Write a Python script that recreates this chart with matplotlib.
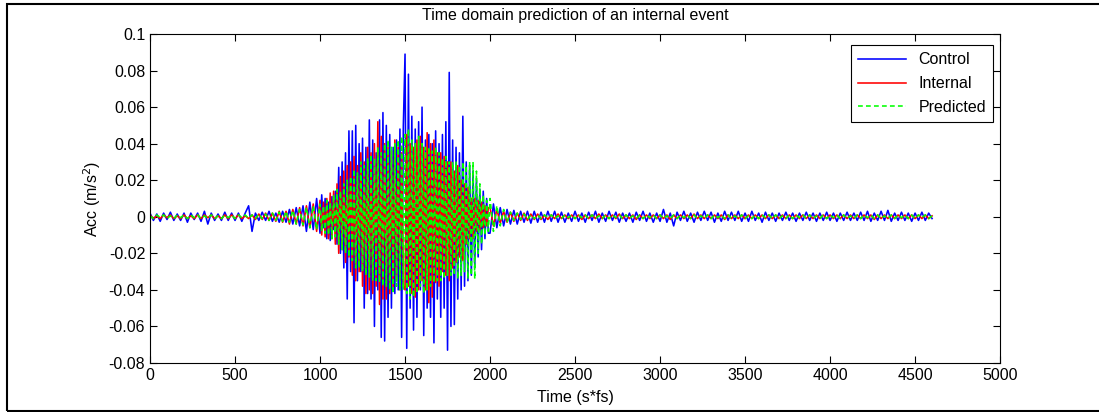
import numpy as N
import matplotlib
matplotlib.use('Agg')
import matplotlib.pyplot as plt
import matplotlib.patches as patches

plt.rcParams['font.family'] = ['Liberation Sans', 'DejaVu Sans']
plt.rcParams['axes.unicode_minus'] = False

# sample times: every 20 points in the quiet parts, every 10 in the event (1000-2000)
t = N.r_[0:1000:20, 1000:2000:10, 2000:4601:20]

# values in units of 1e-3 m/s^2
control = [2,-2,1.5,-2.5,2,-1.5,2.5,-2,1.5,-2,2,-3,2,-1.5,2,-2.5,3,-4,2,-2,1.5,-2,2.5,-2,2,
           -2,2,-2.5,2,6,-8,2,-2,2.5,-2,3,-2.5,2,-3,3,-3,4,-4,5,-5,6,-8,8,-7,10,
           -9,12,-6,10,-12,8,-13,11,-7,14,
           -15,27,-20,30,-28,35,-45,47,-30,47,
           -58,50,-35,40,-30,43,-50,38,-42,53,
           -45,42,-60,35,-40,53,-66,57,-68,50,
           -55,45,-50,38,-42,42,-40,48,-66,50,
           89,-72,78,-50,55,-62,48,-55,52,-40,
           60,-65,42,-50,45,-55,40,-69,47,-45,
           40,-55,45,-50,52,-73,79,-60,42,-59,
           38,-45,35,-40,55,-38,30,-35,28,-32,
           25,-28,20,-22,15,-18,14,-12,10,-9,
           -9,7,-6,5,-5,4,-4,3.5,-4,3,-3,3,-3.5,3,-3,2.5,-3,3,-2.5,3,-3,2.5,-3,2,-2.5,
           3,-2.5,2,-3,2.5,-2,3,-3,2,-2.5,3,-2,2.5,-3,2,-2.5,2,-3,2.5,-2,3,-2.5,2,-3,2,
           -2.5,4,-3,2,-5,2.5,-2,3,-2.5,2,-3,2.5,-2,3,-2,2.5,-3,2,-2.5,3,-2,2.5,-2,3,-2.5,
           2,-2.5,3,-2,2,-3,2.5,-2,2,-2.5,2,-2,2.5,-2,2,-2.5,2,-2,2.5,-2,2,-2.5,2,-2,2.5,
           -2,2,-2.5,2,-2,2.5,-2,2,-2,2.5,-2,3,-2.5,2,-2,3,-2,3.5,-2.5,2,-2,2.5,-2,2,-2.5,
           2,-2,2.5,-2,2,-1]
internal = [1,-1,0.5,-1,1,-0.5,1,-1,0.5,-1,1,-1,0.5,-1,1,-1,1,-0.5,1,-1,0.5,-1,1,-1,1,
            -1,1,-1,0.5,-1,1,-1.5,1.5,-1.5,2,-2,2,-2.5,3,-3,3,-4,4,-4,5,-5,6,-6,7,-8,
            9,-10,8,-11,10,-12,13,-12,14,-15,
            18,-20,22,-18,25,-25,28,-22,30,-32,
            33,-35,28,-30,35,-38,30,-42,38,-40,
            35,-42,40,-38,52,-48,44,-45,40,-45,
            38,-42,36,-40,42,-35,38,-40,35,-38,
            -40,45,-38,40,-42,38,-44,42,-40,44,
            -35,38,-40,46,-47,40,-44,42,-36,35,
            -38,35,-30,33,-32,30,-35,30,-28,25,
            -25,28,-22,20,-24,18,-15,16,-12,10,
            -12,10,-8,9,-7,8,-6,6,-5,5,
            5,-5,4,-3.5,3,-3,2.5,-2.5,2,-2,2,-2,1.5,-1.5,1.5,-1.5,1,-1.5,1,-1,1.5,-1,1,-1,1,
            -1,1,-1.5,1,-1,1,-1,1.5,-1,1,-1,1,-1,1.5,-1,1,-1,1,-1.5,1,-1,1,-1,1,-1,
            1,-1,1,-1.5,1,-1,1,-1,1,-1,1.5,-1,1,-1,1,-1,1,-1,1,-1.5,1,-1,1,-1,1,
            -1,1,-1,1,-1,1,-1,1,-1,1,-1,1,-1,1,-1,1,-1,1,-1,1,-1,1,-1,1,-1,
            1,-1,1,-1,1,-1,1,-1,1,-1,1,-1,1,-1.5,1,-1,1,-1,1,-1,1,-1,1,-1,1,
            -1,1,-1,1,-1,0.5]
predicted = [0.5,-1,1,-0.5,1,-1,0.5,-1,1,-0.5,1,-1,1,-0.5,1,-1,0.5,-1,1,-1,0.5,-1,1,-0.5,1,
             -1,1,-0.5,1,-1,1,-1,1.5,-1,1.5,-2,2,-2,2.5,-2.5,3,-3,3.5,-4,4,-4.5,5,-6,6,-7,
             7,-8,6,-9,9,-10,8,-12,12,-11,
             15,-15,14,-18,18,-20,20,-22,22,-24,
             26,-28,24,-28,30,-30,28,-32,32,-33,
             34,-35,32,-35,38,-36,35,-38,40,-38,
             42,-40,38,-42,40,-38,42,-40,44,-40,
             45,-42,48,-45,42,-44,40,-42,44,-38,
             40,-42,38,-40,38,-38,36,-36,38,-35,
             35,-35,32,-34,33,-32,30,-32,30,-32,
             30,-34,28,-32,30,-30,28,-34,30,-32,
             30,-34,25,-20,18,-15,12,-10,9,-8,
             10,-8,6,-5,4,-3,2.5,-2,2,-1.5,1.5,-1.5,1,-1,1,-1,1,-0.5,1,-1,0.5,-1,1,-0.5,1,
             -1,1,-0.5,1,-1,1,-1,0.5,-1,1,-1,1,-0.5,1,-1,1,-1,0.5,-1,1,-1,1,-0.5,1,-1,
             1,-1,0.5,-1,1,-1,1,-0.5,1,-1,1,-1,0.5,-1,1,-1,1,-0.5,1,-1,1,-1,0.5,-1,1,
             -1,0.5,-1,1,-1,1,-0.5,1,-1,1,-1,0.5,-1,1,-1,1,-0.5,1,-1,1,-1,0.5,-1,1,-1,
             1,-0.5,1,-1,1,-1,0.5,-1,1,-1,1,-0.5,1,-1,1,-1,0.5,-1,1,-1,1,-0.5,1,-1,1,
             -1,1,-0.5,1,-1,0.5]

yticks = [-0.08,-0.06,-0.04,-0.02,0,0.02,0.04,0.06,0.08,0.1]
yticklabels = ['-0.08','-0.06','-0.04','-0.02','0','0.02','0.04','0.06','0.08','0.1']

control = N.array(control)*1e-3
internal = N.array(internal)*1e-3
predicted = N.array(predicted)*1e-3

fig = plt.figure(figsize=(10.99,4.12), dpi=100)
ax = fig.add_axes([0.1365, 0.119, 0.7735, 0.7985])

ax.plot(t, control, color='#0000ff', lw=1.15, label='Control')
ax.plot(t, internal, color='#ff0000', lw=1.15, label='Internal')
ax.plot(t, predicted, color='#00ff00', lw=1.15, ls='--', dashes=(3,2), label='Predicted')

ax.set_xlim(0,5000)
ax.set_ylim(-0.08,0.1)
ax.set_xticks(N.arange(0,5001,500))
ax.set_yticks(yticks)
ax.set_yticklabels(yticklabels)
ax.tick_params(direction='in', top=True, right=True, labelsize=11.5, length=5, width=0.8)
for s in ax.spines.values():
    s.set_linewidth(0.8)

ax.set_title('Time domain prediction of an internal event', fontsize=11.5, pad=10)
ax.set_xlabel('Time (s*fs)', fontsize=11.5, labelpad=5)
ax.set_ylabel('Acc (m/s$^2$)', fontsize=11.5, labelpad=4)

leg = ax.legend(loc='upper right', bbox_to_anchor=(0.992, 0.966), borderaxespad=0,
                fontsize=11.5, fancybox=False, framealpha=1, edgecolor='black',
                handlelength=3.0, labelspacing=0.55, borderpad=0.45)
leg.get_frame().set_linewidth(0.8)

fig.patches.append(patches.Rectangle((7/1099., 1/412.), 1.2, 1-5/412., fill=False,
                                     edgecolor='black', lw=1.5, transform=fig.transFigure))

plt.savefig('out.png', dpi=100)
